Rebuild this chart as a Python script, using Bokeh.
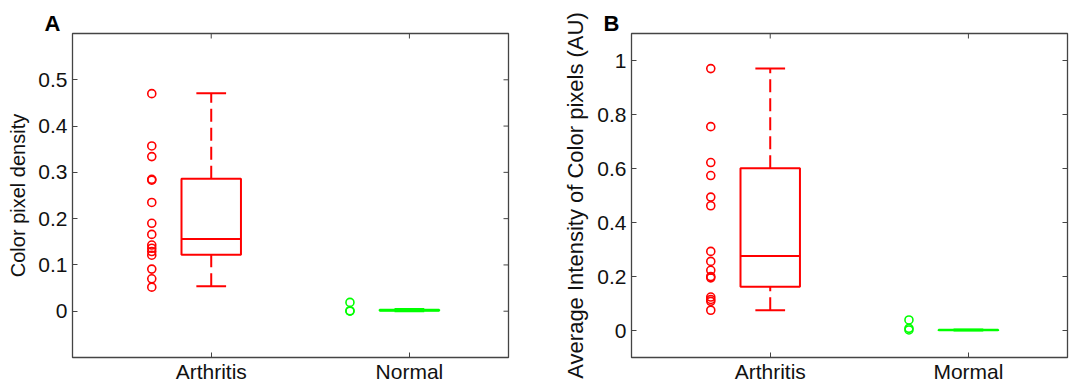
import math
from bokeh.plotting import figure
from bokeh.models import Range1d, FixedTicker, Title
from bokeh.layouts import row
from bokeh.embed import file_html
from bokeh.resources import INLINE

# ---------------- data ----------------
groups_a = ["Arthritis", "Normal"]
groups_b = ["Arthritis", "Mormal"]

# Panel A: Color pixel density
a_arth_points = [0.470, 0.357, 0.334, 0.285, 0.283, 0.235, 0.190, 0.166,
                 0.143, 0.136, 0.129, 0.121, 0.091, 0.070, 0.052]
a_norm_points = [0.019, 0.001, 0.0]
# box stats: [whisker_low, q1, median, q3, whisker_high]
a_arth_box = [0.054, 0.122, 0.156, 0.286, 0.471]
a_norm_box = [0.0, 0.001, 0.002, 0.003, 0.005]
a_yticks = [0, 0.1, 0.2, 0.3, 0.4, 0.5]
a_ylabels = ["0", "0.1", "0.2", "0.3", "0.4", "0.5"]

# Panel B: Average intensity of color pixels
b_arth_points = [0.970, 0.755, 0.622, 0.574, 0.494, 0.462, 0.293, 0.256,
                 0.223, 0.200, 0.195, 0.124, 0.115, 0.108, 0.075]
b_norm_points = [0.039, 0.008, 0.002]
b_arth_box = [0.075, 0.162, 0.276, 0.601, 0.970]
b_norm_box = [0.0, 0.001, 0.002, 0.003, 0.004]
b_yticks = [0, 0.2, 0.4, 0.6, 0.8, 1]
b_ylabels = ["0", "0.2", "0.4", "0.6", "0.8", "1"]

RED = "#ff0000"
GREEN = "#00ff00"
FONT = "Liberation Sans"
FRAME = "#444444"
XRANGE = (0.3, 2.5)


def style_axis(ax, standoff):
    ax.axis_line_color = None
    ax.major_tick_in = 5
    ax.major_tick_out = 0
    ax.minor_tick_line_color = None
    ax.major_tick_line_color = FRAME
    ax.major_tick_line_width = 1
    ax.major_label_text_font = FONT
    ax.major_label_text_color = "#111111"
    ax.major_label_text_font_size = "21px"
    ax.major_label_standoff = standoff


def draw_group(p, pos, pts, box, color):
    lo, q1, med, q3, hi = box
    n = len(pts)
    p.scatter(x=[pos - 0.3] * n, y=pts, marker="circle", size=8,
              fill_color=None, line_color=color, line_width=1.6)
    p.quad(left=[pos - 0.15], right=[pos + 0.15], bottom=[q1], top=[q3],
           fill_color=None, line_color=color, line_width=2)
    p.segment(x0=[pos - 0.15], x1=[pos + 0.15], y0=[med], y1=[med],
              line_color=color, line_width=2)
    p.segment(x0=[pos, pos], x1=[pos, pos], y0=[q3, lo], y1=[hi, q1],
              line_color=color, line_width=2, line_dash="13 6")
    p.segment(x0=[pos - 0.075, pos - 0.075], x1=[pos + 0.075, pos + 0.075],
              y0=[hi, lo], y1=[hi, lo], line_color=color, line_width=2)


def make_panel(letter, groups, yrange, yticks, ylabels, ylabel, ylabel_size,
               arth_pts, arth_box, norm_pts, norm_box, width, bl, br):
    p = figure(width=width, height=385, output_backend="svg",
               toolbar_location=None,
               x_range=Range1d(*XRANGE), y_range=Range1d(*yrange),
               min_border_left=bl, min_border_right=br,
               min_border_top=33, min_border_bottom=28)
    p.grid.visible = False
    p.outline_line_color = FRAME
    p.outline_line_width = 1.3
    p.background_fill_color = "white"
    p.border_fill_color = "white"

    xpos = [1, 2]
    p.xaxis.ticker = FixedTicker(ticks=xpos)
    p.xaxis.major_label_overrides = {xpos[i]: groups[i] for i in range(2)}
    p.xaxis.axis_label = None
    p.yaxis.ticker = FixedTicker(ticks=yticks)
    p.yaxis.major_label_overrides = {yticks[i]: ylabels[i] for i in range(len(yticks))}
    p.yaxis.axis_label = ylabel
    p.yaxis.axis_label_text_font = FONT
    p.yaxis.axis_label_text_font_size = ylabel_size
    p.yaxis.axis_label_text_font_style = "normal"
    p.yaxis.axis_label_text_color = "#111111"
    p.yaxis.axis_label_standoff = 6
    style_axis(p.xaxis[0], 2)
    style_axis(p.yaxis[0], 5)

    # mirrored inward ticks on the right and top edges of the box
    ny = len(yticks)
    p.ray(x=[XRANGE[1]] * ny, y=yticks, length=5, length_units="screen",
          angle=math.pi, line_color=FRAME, line_width=1)
    p.ray(x=xpos, y=[yrange[1]] * 2, length=5, length_units="screen",
          angle=-math.pi / 2, line_color=FRAME, line_width=1)

    draw_group(p, xpos[0], arth_pts, arth_box, RED)
    draw_group(p, xpos[1], norm_pts, norm_box, GREEN)

    t = Title(text=letter, align="left", offset=-28, standoff=-5,
              text_font=FONT, text_font_size="22px", text_font_style="bold",
              text_color="#000000")
    p.add_layout(t, "above")
    return p


pA = make_panel("A", groups_a, (-0.1, 0.6), a_yticks, a_ylabels,
                "Color pixel density", "20px",
                a_arth_points, a_arth_box, a_norm_points, a_norm_box,
                width=552, bl=72, br=44)
pB = make_panel("B", groups_b, (-0.1, 1.1), b_yticks, b_ylabels,
                "Average Intensity of Color pixels (AU)", "22px",
                b_arth_points, b_arth_box, b_norm_points, b_norm_box,
                width=520, bl=79, br=5)

layout = row(pA, pB)
open("out.html", "w").write(file_html(layout, INLINE))
